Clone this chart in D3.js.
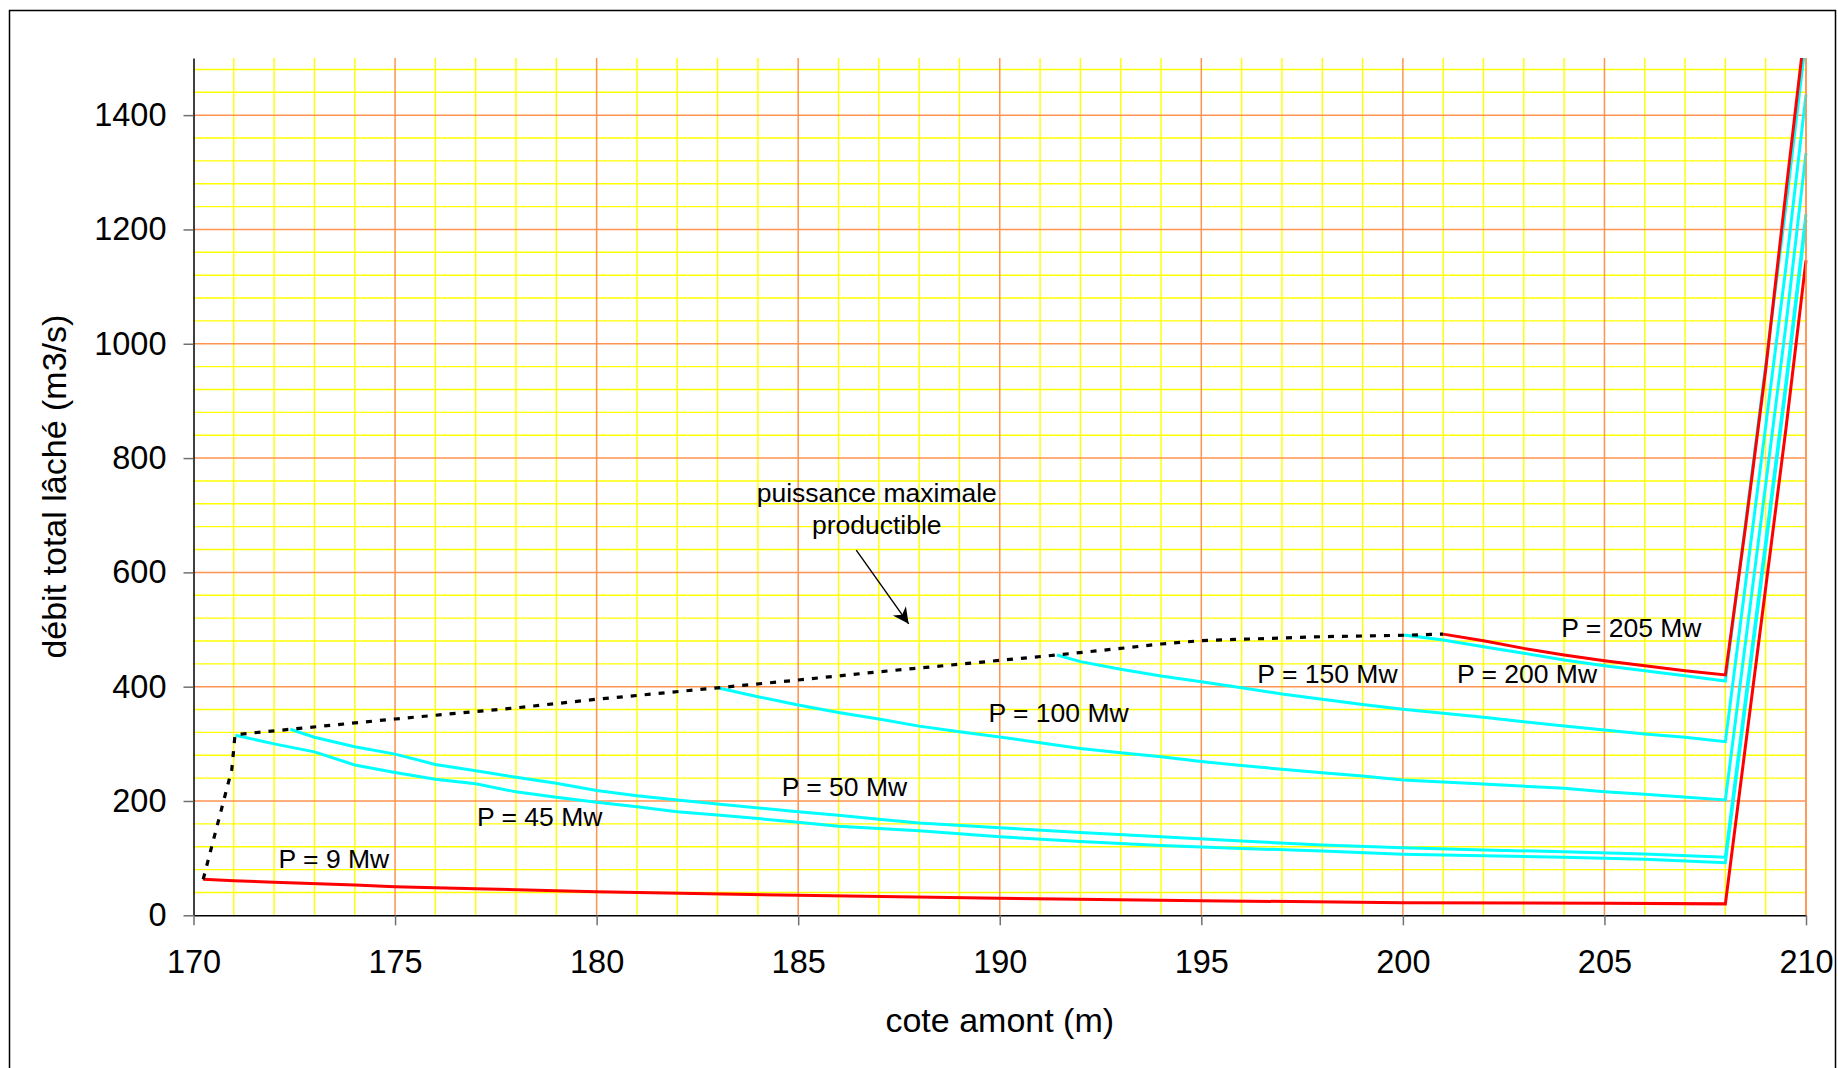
<!DOCTYPE html>
<html>
<head>
<meta charset="utf-8">
<script src="https://cdn.jsdelivr.net/npm/d3@7"></script>
<style>
  html, body { margin: 0; padding: 0; background: #ffffff; }
  svg { display: block; font-family: "Liberation Sans", Arial, sans-serif; }
</style>
</head>
<body>
<svg id="chart" width="1838" height="1068"></svg>
<script>
// Débit total lâché en fonction de la cote amont, pour différentes puissances
const xTicks = [170, 175, 180, 185, 190, 195, 200, 205, 210];
const yTicks = [0, 200, 400, 600, 800, 1000, 1200, 1400];

// P = 9 Mw
const coteP9 = [170.24, 171, 172, 174, 175, 177, 179, 180, 185, 190, 195, 200, 205, 208, 208.5, 209, 209.5, 210];
const debitP9 = [63, 60.5, 57.7, 53, 50, 46.5, 43, 41, 35, 29.7, 25.6, 22, 21, 20, 297, 573, 850, 1146];

// P = 45 Mw
const coteP45 = [171.04, 172, 173, 174, 175, 176, 177, 178, 179, 180, 181, 182, 183, 185, 186, 187, 188, 190, 192, 194, 196, 198, 200, 202, 204, 206, 208, 208.5, 209, 209.5, 210];
const debitP45 = [315, 300, 286, 263, 250, 238, 230, 216, 206.5, 198, 190, 181, 175.5, 163, 156, 152, 148, 137.5, 129, 122, 117, 112.5, 107, 104, 101.5, 98, 92, 368, 644, 921, 1217];

// P = 50 Mw
const coteP50 = [172.4, 173, 174, 175, 176, 177, 178, 179, 180, 181, 182, 183, 185, 186, 187, 188, 190, 192, 194, 196, 198, 200, 202, 204, 206, 208, 208.5, 209, 209.5, 210];
const debitP50 = [325.5, 311.5, 295, 282, 264, 253, 241.5, 231, 218.5, 209, 201.7, 194.7, 181, 175, 168, 161.5, 153.3, 145, 137.5, 130, 123, 118.3, 114.3, 111.3, 107.3, 101.5, 378, 654, 931, 1227];

// P = 100 Mw
const coteP100 = [183, 184, 185, 186, 187, 188, 189, 190, 191, 192, 193, 194, 195, 196, 197, 198, 199, 200, 202, 204, 205, 206, 208, 208.5, 209, 209.5, 210];
const debitP100 = [398, 382.5, 368, 355, 343.5, 331, 321, 312, 302, 292, 284.5, 277.5, 269, 262, 255.5, 249.5, 243.7, 236.7, 229.7, 222.2, 216.3, 211.7, 201.7, 478, 754, 1031, 1334];

// P = 150 Mw
const coteP150 = [191.42, 192, 193, 194, 195, 196, 197, 198, 199, 200, 201, 202, 203, 204, 205, 206, 207, 208, 208.5, 209, 209.5, 210];
const debitP150 = [455.5, 443.8, 430.4, 418.7, 408.8, 398.3, 387.3, 378, 369, 360.5, 353.5, 346.5, 338.8, 331.2, 324.2, 317.2, 311.5, 303.8, 580, 856, 1133, 1436];

// P = 200 Mw
const coteP200 = [200.03, 201, 202, 203, 204, 205, 206, 207, 208, 208.5, 209, 209.5, 210];
const debitP200 = [490.5, 481.7, 470, 458.4, 446.7, 436.8, 428, 419.3, 410, 686, 962, 1239, 1535];

// P = 205 Mw
const coteP205 = [201.0, 202, 203, 204, 205, 206, 207, 208, 208.5, 209, 209.5, 210];
const debitP205 = [492, 480.5, 467, 455.5, 445.5, 436.8, 428, 420.5, 680, 955, 1265, 1567];

// Puissance maximale productible
const coteMax = [170.24, 170.95, 171.03, 172.4, 175, 178, 180, 183, 185, 187, 190, 191.42, 193, 194, 195, 196, 198, 200.03, 201];
const debitMax = [63, 255, 316, 325.5, 343.5, 363, 378, 398, 411.7, 426, 446, 455.5, 467, 474.7, 480.5, 483, 487.5, 490, 492];

// Étiquettes des courbes : texte, cote, débit (position de la ligne de base)
const curveLabels = ["P = 9 Mw", "P = 45 Mw", "P = 50 Mw", "P = 100 Mw", "P = 150 Mw", "P = 200 Mw", "P = 205 Mw"];
const labelCote = [172.11, 177.03, 184.59, 189.72, 196.39, 201.34, 203.93];
const labelDebit = [82, 157, 209, 339, 407, 407, 487.5];

(function draw() {
  const svg = d3.select("#chart");
  const pLeft = 193.5, pRight = 1806, pTop = 58, pBottom = 915.3;

  const x = d3.scaleLinear().domain([170, 210]).range([pLeft, pRight]);
  const y = d3.scaleLinear().domain([0, 1500]).range([pBottom, pTop]);

  // Cadre du graphique
  svg.append("rect").attr("x", 9.5).attr("y", 10.5).attr("width", 1826).attr("height", 1080)
    .attr("fill", "#ffffff").attr("stroke", "#000").attr("stroke-width", 1.5);

  // Grille secondaire (jaune)
  const grid = svg.append("g");
  const minorX = d3.range(171, 210, 1).filter(v => v % 5 !== 0);
  const minorY = d3.range(40, 1500, 40).filter(v => v % 200 !== 0);
  grid.selectAll("line.mx").data(minorX).join("line").attr("class", "mx")
    .attr("x1", d => x(d)).attr("x2", d => x(d)).attr("y1", pTop).attr("y2", pBottom)
    .attr("stroke", "#ffff00").attr("stroke-width", 1.4);
  grid.selectAll("line.my").data(minorY).join("line").attr("class", "my")
    .attr("x1", pLeft).attr("x2", pRight).attr("y1", d => y(d)).attr("y2", d => y(d))
    .attr("stroke", "#ffff00").attr("stroke-width", 1.4);

  // Grille principale (orange)
  const majorX = xTicks.filter(v => v > 170);
  const majorY = yTicks.filter(v => v > 0);
  grid.selectAll("line.Mx").data(majorX).join("line").attr("class", "Mx")
    .attr("x1", d => x(d)).attr("x2", d => x(d)).attr("y1", pTop).attr("y2", pBottom)
    .attr("stroke", "#ff9350").attr("stroke-width", 1.5);
  grid.selectAll("line.My").data(majorY).join("line").attr("class", "My")
    .attr("x1", pLeft).attr("x2", pRight).attr("y1", d => y(d)).attr("y2", d => y(d))
    .attr("stroke", "#ff9350").attr("stroke-width", 1.5);

  // Zone de tracé
  svg.append("clipPath").attr("id", "plot-clip").append("rect")
    .attr("x", pLeft).attr("y", pTop).attr("width", pRight - pLeft + 2).attr("height", pBottom - pTop);
  const plot = svg.append("g").attr("clip-path", "url(#plot-clip)");

  const line = d3.line().x(d => x(d[0])).y(d => y(d[1]));
  const pairs = (xs, ys) => xs.map((v, i) => [v, ys[i]]);

  const curves = [
    { xs: coteP45, ys: debitP45, color: "#00ffff" },
    { xs: coteP50, ys: debitP50, color: "#00ffff" },
    { xs: coteP100, ys: debitP100, color: "#00ffff" },
    { xs: coteP150, ys: debitP150, color: "#00ffff" },
    { xs: coteP200, ys: debitP200, color: "#00ffff" },
    { xs: coteP9, ys: debitP9, color: "#ff0000" },
    { xs: coteP205, ys: debitP205, color: "#ff0000" }
  ];
  plot.selectAll("path.curve").data(curves).join("path")
    .attr("class", "curve")
    .attr("d", c => line(pairs(c.xs, c.ys)))
    .attr("fill", "none").attr("stroke", c => c.color).attr("stroke-width", 3)
    .attr("stroke-linejoin", "miter");

  plot.append("path")
    .attr("d", line(pairs(coteMax, debitMax)))
    .attr("fill", "none").attr("stroke", "#000").attr("stroke-width", 3.2)
    .attr("stroke-dasharray", "6,8");

  // Axes
  const yAxis = svg.append("g").attr("transform", `translate(${pLeft},0)`)
    .call(d3.axisLeft(y).tickValues(yTicks).tickSize(10).tickSizeOuter(0).tickPadding(17).tickFormat(d3.format("d")));
  const xAxis = svg.append("g").attr("transform", `translate(0,${pBottom})`)
    .call(d3.axisBottom(x).tickValues(xTicks).tickSize(10).tickSizeOuter(0).tickPadding(25).tickFormat(d3.format("d")));
  [xAxis, yAxis].forEach(a => {
    a.select(".domain").attr("stroke", "#000").attr("stroke-width", 1.5);
    a.selectAll(".tick line").attr("stroke", "#707070").attr("stroke-width", 1.5);
    a.selectAll(".tick text").attr("fill", "#000").style("font-size", "32.5px")
      .style("font-family", "'Liberation Sans', Arial, sans-serif");
  });
  // Ligne verticale à droite (cote 210)
  svg.append("line").attr("x1", pRight).attr("x2", pRight).attr("y1", pTop).attr("y2", pBottom)
    .attr("stroke", "#ff9350").attr("stroke-width", 1.5);

  // Titres des axes
  svg.append("text").attr("x", (pLeft + pRight) / 2).attr("y", 1032)
    .attr("text-anchor", "middle").style("font-size", "34px").text("cote amont (m)");
  svg.append("text").attr("transform", `translate(66,${(pTop + pBottom) / 2}) rotate(-90)`)
    .attr("text-anchor", "middle").style("font-size", "34px").text("débit total lâché (m3/s)");

  // Étiquettes des courbes
  svg.selectAll("text.lbl").data(curveLabels).join("text")
    .attr("class", "lbl")
    .attr("x", (d, i) => x(labelCote[i])).attr("y", (d, i) => y(labelDebit[i]))
    .style("font-size", "26.5px").text(d => d);

  // Annotation de la puissance maximale
  const note = svg.append("text").attr("text-anchor", "middle").style("font-size", "26.5px");
  note.append("tspan").attr("x", x(186.95)).attr("y", y(723)).text("puissance maximale");
  note.append("tspan").attr("x", x(186.95)).attr("y", y(667)).text("productible");

  svg.append("defs").append("marker").attr("id", "arrow")
    .attr("viewBox", "0 0 10 10").attr("refX", 10).attr("refY", 5)
    .attr("markerWidth", 19).attr("markerHeight", 16).attr("markerUnits", "userSpaceOnUse")
    .attr("orient", "auto")
    .append("path").attr("d", "M0,0 L10,5 L0,10 L3,5 Z").attr("fill", "#000");
  svg.append("line")
    .attr("x1", x(186.44)).attr("y1", y(639)).attr("x2", x(187.74)).attr("y2", y(510))
    .attr("stroke", "#000").attr("stroke-width", 1.4).attr("marker-end", "url(#arrow)");
})();
</script>
</body>
</html>
